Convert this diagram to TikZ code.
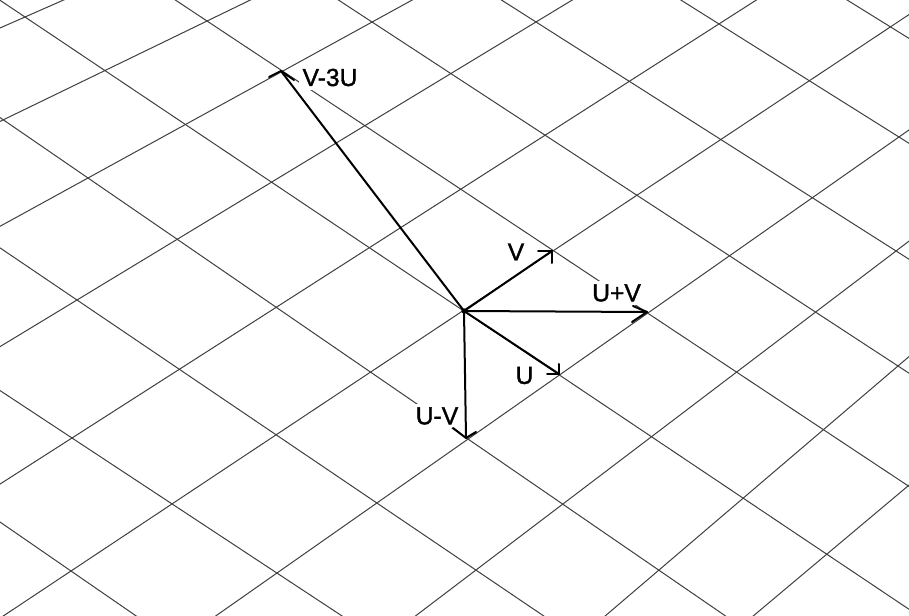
\documentclass[tikz,border=0pt]{standalone}
\usepackage{fontspec}
\setmainfont{Liberation Sans}
\newfontfamily\lblfont[FakeBold=1.4]{Liberation Sans}
\begin{document}
\begin{tikzpicture}[x=0.75pt,y=-0.75pt,
  gridline/.style={line width=0.75pt, black!75},
  vec/.style={line width=1.5pt, black, line cap=round},
  lbl/.style={fill=white, inner sep=2.5pt, font=\lblfont\fontsize{18.5}{20}\selectfont}]
\path[use as bounding box, fill=white] (0,0) rectangle (909,616);
% distorted lattice grid
\begin{scope}
\clip (0,0) rectangle (909,616);
% lines running down-right (constant j)
\foreach \xo/\yo/\m in {889/26/0.62, 719/24/0.628, 536/22/0.636, 372/22/0.654,
    207/21/0.663, 25/17/0.67, 88/178/0.687, 77/300/0.677, 72/438/0.659, 71/571/0.69}
  \draw[gridline] (-20,{\yo+\m*(-20-\xo)}) -- (930,{\yo+\m*(930-\xo)});
% lines running up-right (constant i)
\foreach \xo/\yo/\m in {25/17/-0.44, 104/71/-0.485, 88/178/-0.549, 77/300/-0.6057,
    72/438/-0.64, 71/571/-0.664, 277/573/-0.701, 476/570/-0.7595, 659/570/-0.8536, 827/554/-0.84}
  \draw[gridline] (-20,{\yo+\m*(-20-\xo)}) -- (930,{\yo+\m*(930-\xo)});
\end{scope}
% labels
\node[lbl] (lV3U) at (330,77.5) {V-3U};
\node[lbl] (lV) at (516,252) {V};
\node[lbl] (lUpV) at (616.5,293) {U+V};
\node[lbl] (lU) at (524.5,375.5) {U};
\node[lbl] (lUmV) at (437,416) {U-V};
% vectors
\coordinate (O) at (464,311);
\coordinate (tU) at (559,374);
\coordinate (tV) at (552,251);
\coordinate (tUpV) at (647,312);
\coordinate (tUmV) at (466,438);
\coordinate (tV3U) at (281,71);
\draw[vec] (O) -- (tU);
\draw[vec] (O) -- (tV);
\draw[vec] (O) -- (tUpV);
\draw[vec] (O) -- (tUmV);
\draw[vec] (O) -- (tV3U);
% arrow barbs
\draw[vec] (tU) -- ++(-12,0) (tU) -- ++(0,-10);
\draw[vec] (tV) -- ++(-14,0) (tV) -- ++(0,12);
\draw[vec] (tUpV) -- ++(-14,-6) (tUpV) -- ++(-15,10);
\draw[vec] (tUmV) -- ++(-13,-10) (tUmV) -- ++(10,-6);
\draw[vec] (tV3U) -- ++(-12,6) (tV3U) -- ++(13,9);
\fill (O) circle[radius=2pt];
\end{tikzpicture}
\end{document}
